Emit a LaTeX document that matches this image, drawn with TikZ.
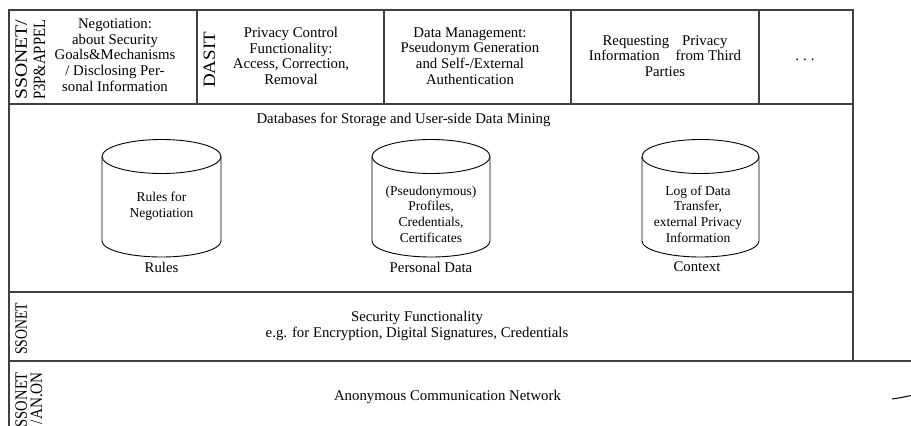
\documentclass[tikz,border=0pt]{standalone}
\usepackage{fontspec}
\usepackage{graphicx}
\setmainfont{Liberation Serif}
\newcommand{\fs}{\fontsize{14.8}{15.8}\selectfont}
\newcommand{\fsc}{\fontsize{13.5}{15.7}\selectfont}
\newcommand{\vtxt}[3]{\resizebox{#1}{#2}{#3}}
\begin{document}
\begin{tikzpicture}[x=1pt,y=1pt,
  frame/.style={line width=1.1pt, draw=black!75},
  txt/.style={align=center, inner sep=0pt, font=\fs},
  ctxt/.style={align=center, inner sep=0pt, font=\fsc},
  vlab/.style={rotate=90, anchor=base west, inner sep=0pt, font=\fs},
  vlabe/.style={rotate=90, anchor=base east, inner sep=0pt, font=\fs},
  cylline/.style={line width=0.9pt, draw=black}]
\useasboundingbox (0,0) rectangle (911,-426);
% frame lines
\draw[frame] (9,-426) -- (9,-10) -- (853,-10) -- (853,-361);
\draw[frame] (9,-104) -- (853,-104);
\draw[frame] (9,-292) -- (853,-292);
\draw[frame] (9,-361) -- (911,-361);
\foreach \x in {197,384,571,759} \draw[frame] (\x,-10) -- (\x,-104);
% top row
\node[vlab] (l1a) at (27,-100) {\vtxt{80pt}{11.5pt}{SSONET/}};
\node[vlab] (l1b) at (45,-100) {\vtxt{80pt}{11.5pt}{P3P\&APPEL}};
\node[txt] (neg) at (115,-55) {Negotiation:\\about Security\\Goals\&Mechanisms\\/ Disclosing Per-\\sonal Information};
\node[vlab] (dasit) at (215,-88) {\vtxt{56pt}{11.5pt}{DASIT}};
\node[txt] (pcf) at (291,-56) {Privacy Control\\Functionality:\\Access, Correction,\\Removal};
\node[txt] (dm) at (470,-56) {Data Management:\\Pseudonym Generation\\and Self-/External\\Authentication};
\node[txt] (req) at (665,-56) {Requesting\hspace{13pt}Privacy\\Information\hspace{16pt}from Third\\Parties};
\node[txt] (dots) at (805,-60) {.\hspace{4pt}.\hspace{4pt}.};
% databases row
\node[txt] (dbt) at (403.5,-120) {Databases for Storage and User-side Data Mining};
\foreach \cx/\rx in {161.5/59.5, 431/59, 700.5/58.5}{
  \draw[cylline] (\cx,-156.5) ellipse [x radius=\rx, y radius=17];
  \draw[cylline] (\cx-\rx,-156.5) -- (\cx-\rx,-241) arc[start angle=180, end angle=360, x radius=\rx, y radius=16] -- (\cx+\rx,-156.5);
}
\node[ctxt] (rulesin) at (161.5,-206) {Rules for\\Negotiation};
\node[ctxt] (pdin) at (431,-214) {(Pseudonymous)\\Profiles,\\Credentials,\\Certificates};
\node[ctxt] (ctxin) at (698,-214) {Log of Data\\Transfer,\\external Privacy\\Information};
\node[txt] (rules) at (161.5,-267) {Rules};
\node[txt] (pd) at (431,-267) {Personal Data};
\node[txt] (ctx) at (697,-267) {Context};
% security row
\node[vlab] (l3) at (27,-355) {\vtxt{52pt}{11.5pt}{SSONET}};
\node[txt] (sec) at (417,-326) {Security Functionality\\e.g. for Encryption, Digital Signatures, Credentials};
% network row
\node[vlabe] (l4a) at (27,-372) {\vtxt{55pt}{11.5pt}{SSONET}};
\node[vlabe] (l4b) at (42,-372) {\vtxt{52pt}{11.5pt}{/AN.ON}};
\node[txt] (acn) at (447.5,-397) {Anonymous Communication Network};
\draw[line width=1pt] (892,-399) .. controls (900,-397.8) .. (911,-395.5);
\end{tikzpicture}
\end{document}
